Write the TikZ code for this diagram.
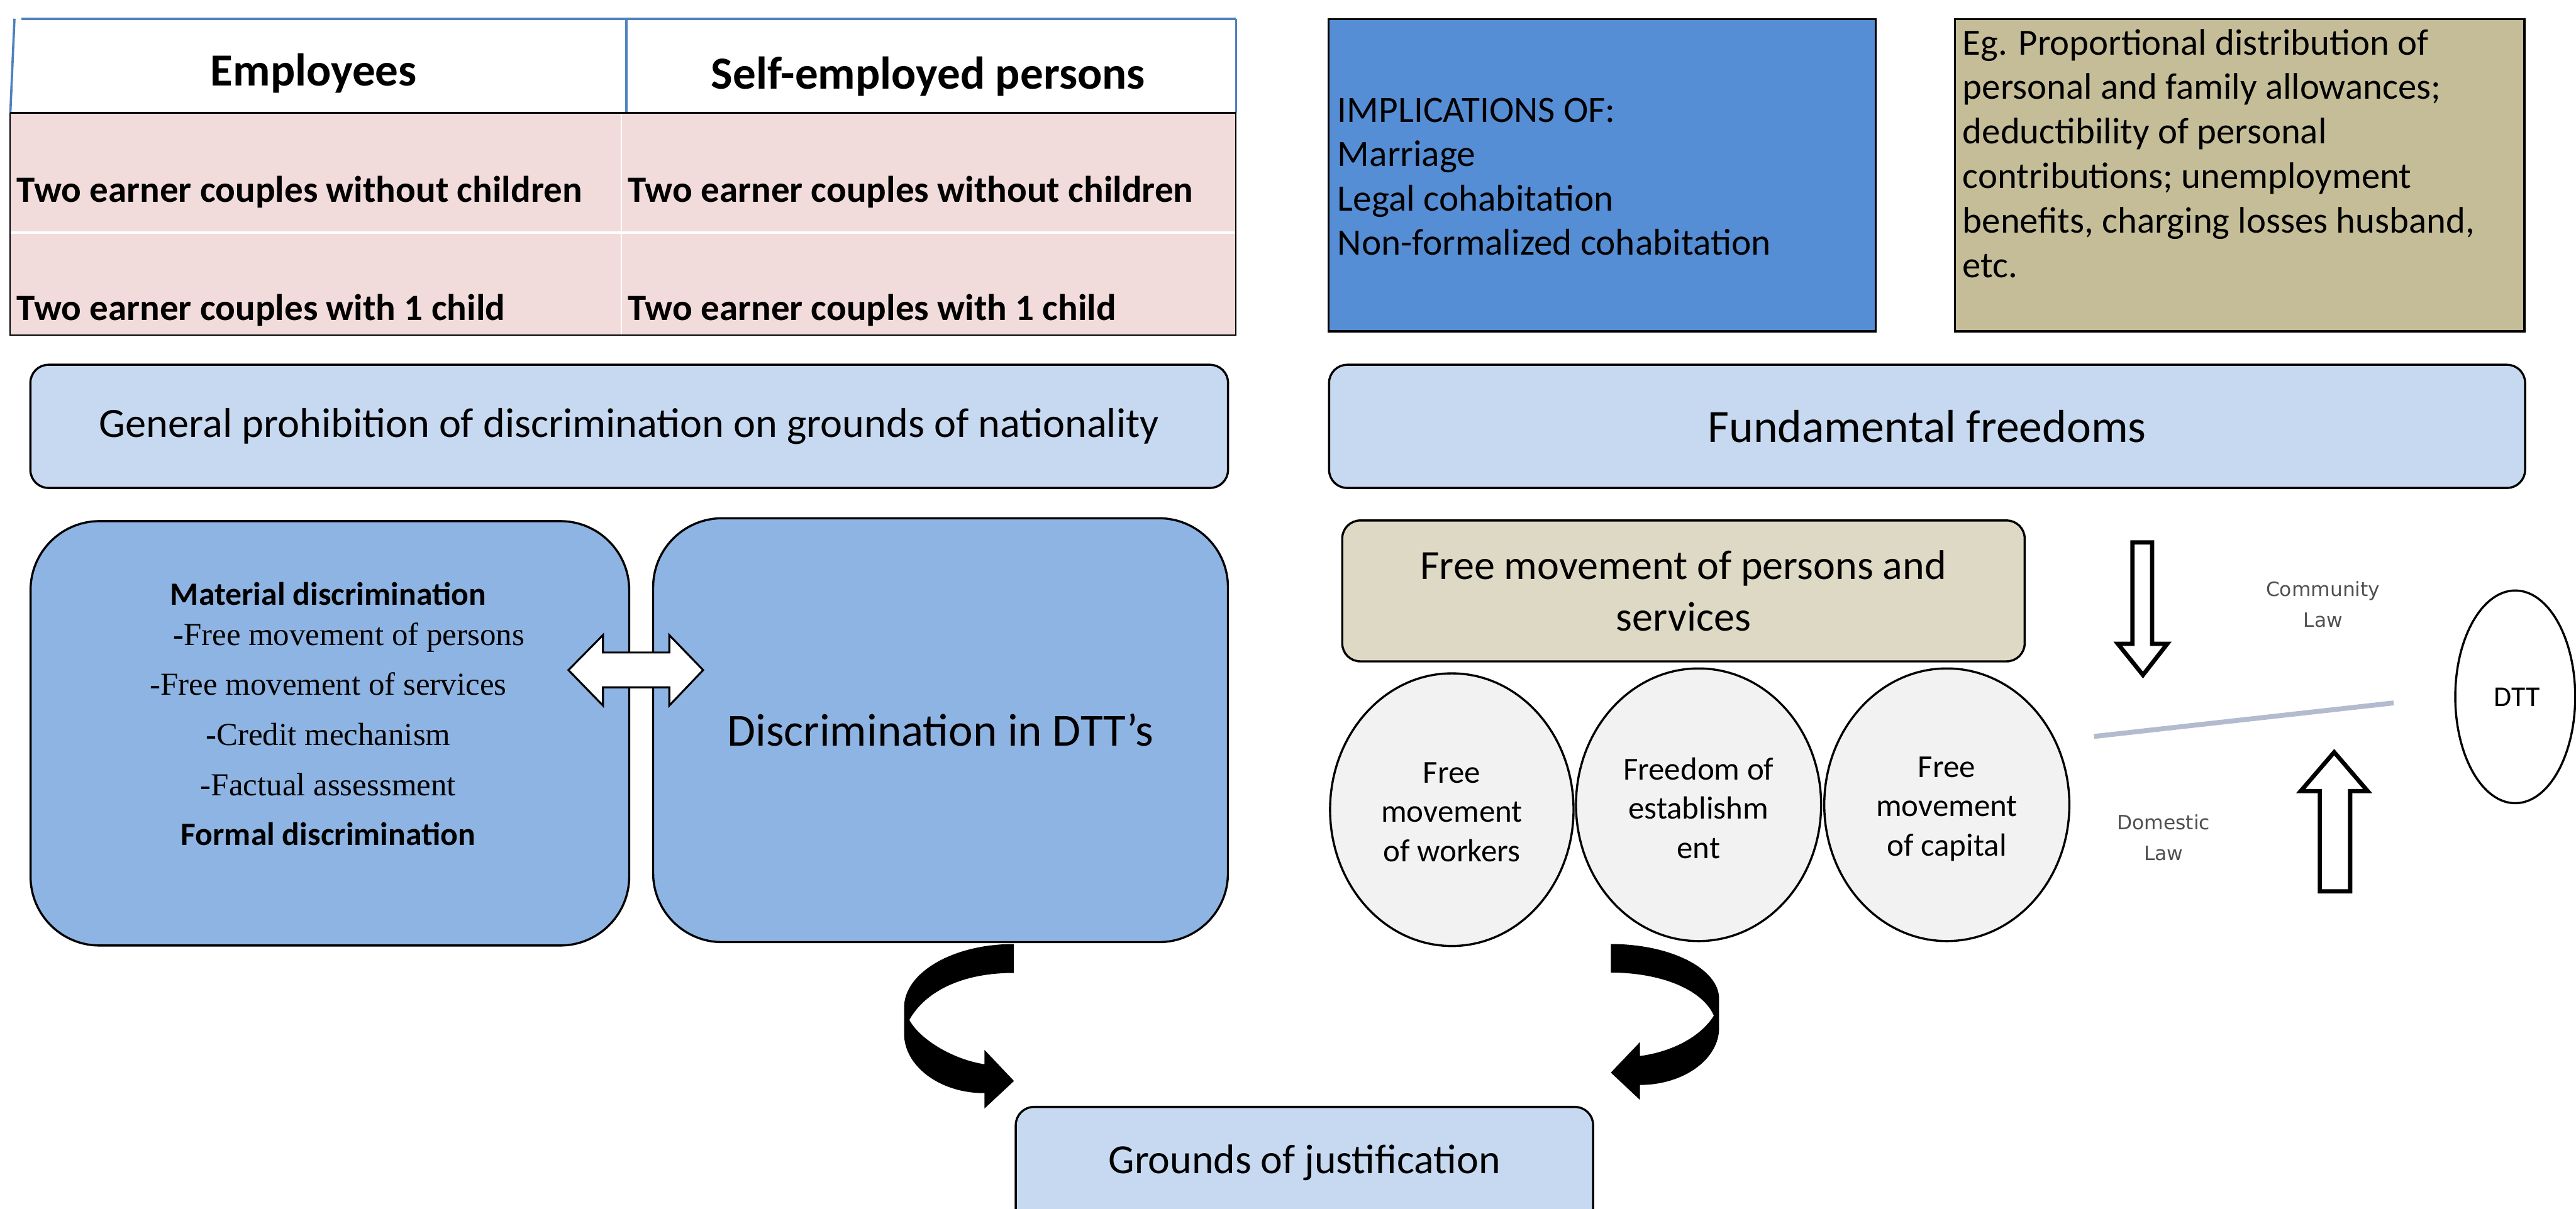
\documentclass[tikz,border=0pt]{standalone}
\usepackage{fontspec}
\setmainfont{Carlito}
\newfontfamily\serifface{Liberation Serif}
\newfontfamily\labelface{DejaVu Sans}
\usetikzlibrary{shapes.geometric}

\definecolor{headblue}{HTML}{4F81BD}
\definecolor{rowpink}{HTML}{F2DCDB}
\definecolor{implblue}{HTML}{558ED5}
\definecolor{khaki}{HTML}{C4BD97}
\definecolor{paleblue}{HTML}{C6D9F1}
\definecolor{midblue}{HTML}{8EB4E3}
\definecolor{sand}{HTML}{DDD9C4}
\definecolor{ovalgrey}{HTML}{F2F2F2}
\definecolor{lawgrey}{HTML}{505050}
\definecolor{divider}{HTML}{B3BCCF}

\newcommand\fsz[2]{\fontsize{#1pt}{#2pt}\selectfont}

\begin{document}
\begin{tikzpicture}[x=1pt,y=-1pt,
  panel/.style={draw=black,line width=1.3pt,rounded corners=11pt,inner sep=0pt},
  bigpanel/.style={draw=black,line width=1.3pt,rounded corners=42pt,inner sep=0pt},
  flatbox/.style={draw=black,line width=1.3pt,inner sep=0pt},
  oval/.style={ellipse,draw=black,line width=1.3pt,fill=ovalgrey,inner sep=0pt},
  hollowarrow/.style={draw=black,line width=2.6pt,fill=white,line join=miter},
  cellhead/.style={font=\fsz{28}{32}\bfseries,inner sep=0pt},
  celltext/.style={font=\fsz{22.6}{26}\bfseries,inner sep=0pt,anchor=west},
  lawtext/.style={font=\labelface\fsz{12}{19},text=lawgrey,align=center,inner sep=0pt},
  ovaltext/.style={font=\fsz{19.5}{24},align=center,inner sep=0pt},
  curlyarrow/.style={fill=black}
]
\useasboundingbox (0,0) rectangle (1568,736);
\clip (0,0) rectangle (1568,736);

% ---------- table: employees / self-employed ----------
\fill[rowpink] (6.2,68.7) rectangle (752.3,140.8);
\fill[rowpink] (6.2,142.4) rectangle (752.3,204);
\draw[white,line width=0.8pt] (378.2,68.7) -- (378.2,204);
\draw[black,line width=0.9pt] (6.2,68.7) -- (6.2,204) -- (752.3,204) -- (752.3,68.7) -- cycle;
\draw[white,line width=1.6pt] (6.7,141.6) -- (751.8,141.6);
\draw[headblue,line width=1.4pt] (13.2,11.4) -- (752.4,11.4);
\draw[headblue,line width=1.4pt] (8.8,11.4) -- (6.3,68.7);
\draw[headblue,line width=1.4pt] (381.4,11.4) -- (381.4,68.7);
\draw[headblue,line width=1.4pt] (752.4,11.4) -- (752.4,68.7);
\draw[black,line width=0.9pt] (6.2,68.7) -- (752.3,68.7);

\node[cellhead] (hemp) at (191,44.5) {Employees};
\node[cellhead] (hself) at (565,46.5) {Self-employed persons};
\node[celltext] (e1) at (10,117) {Two earner couples without children};
\node[celltext] (s1) at (382,117) {Two earner couples without children};
\node[celltext] (e2) at (10,189) {Two earner couples with 1 child};
\node[celltext] (s2) at (382,189) {Two earner couples with 1 child};

% ---------- top right boxes ----------
\node[flatbox,fill=implblue,minimum width=333pt,minimum height=190pt] (impl) at (975.2,106.7) {};
\node[font=\fsz{22.7}{27},align=left,anchor=west,inner sep=0pt] (impltxt) at (814,107.5)
  {IMPLICATIONS OF:\\Marriage\\Legal cohabitation\\Non-formalized cohabitation};
\node[flatbox,fill=khaki,minimum width=346.6pt,minimum height=190pt] (eg) at (1363.3,106.7) {};
\node[font=\fsz{22.5}{27.1},align=left,anchor=north west,inner sep=0pt] (egtxt) at (1194.5,17.5)
  {Eg. Proportional distribution of\\personal and family allowances;\\deductibility of personal\\contributions; unemployment\\benefits, charging losses husband,\\etc.};

% ---------- principle bars ----------
\node[panel,fill=paleblue,minimum width=729pt,minimum height=75pt,font=\fsz{25.4}{30}] (gen) at (383,259.6)
  {General prohibition of discrimination on grounds of nationality};
\node[panel,fill=paleblue,minimum width=728pt,minimum height=75pt,font=\fsz{28.2}{32}] (fund) at (1173,259.6)
  {Fundamental freedoms};

% ---------- discrimination boxes ----------
\node[bigpanel,fill=midblue,minimum width=364.4pt,minimum height=258.4pt] (matl) at (200.8,446.5) {};
\node[anchor=base,inner sep=0pt] (matltxt) at (199.8,368.6)
  {\fsz{19.5}{30.5}\setlength\tabcolsep{0pt}%
   \begin{tabular}[t]{c}
   {\bfseries\fsz{19.8}{30.5}Material discrimination}\\[-6.3pt]
   \hspace*{25pt}{\serifface -Free movement of persons}\\
   {\serifface -Free movement of services}\\
   {\serifface -Credit mechanism}\\
   {\serifface -Factual assessment}\\
   {\bfseries\fsz{19.8}{30.5}Formal discrimination}
   \end{tabular}};
\node[bigpanel,fill=midblue,minimum width=349.9pt,minimum height=258.1pt,font=\fsz{28}{32}] (dtts) at (572.5,444.6)
  {Discrimination in DTT’s};

% double arrow between the two boxes
\draw[draw=black,line width=1.2pt,fill=white,line join=miter]
  (346,408) -- (367,386.7) -- (367,397.3) -- (407.4,397.3) -- (407.4,386.7) -- (428,408)
  -- (407.4,429.6) -- (407.4,418.5) -- (367,418.5) -- (367,429.6) -- cycle;

% ---------- freedoms ----------
\node[panel,fill=sand,minimum width=415.4pt,minimum height=85.8pt,font=\fsz{25.3}{31.4},align=center] (fmps) at (1024.7,359.8)
  {Free movement of persons and\\services};
\node[oval,minimum width=148.2pt,minimum height=166pt] (workers) at (883.7,493) {};
\node[oval,minimum width=149.2pt,minimum height=166pt] (estab) at (1033.9,490) {};
\node[oval,minimum width=149.2pt,minimum height=166pt] (capital) at (1185,490) {};
\node[ovaltext] (workerstxt) at (883.7,494.5) {Free\\movement\\of workers};
\node[ovaltext] (estabtxt) at (1033.9,492) {Freedom of\\establishm\\ent};
\node[ovaltext] (capitaltxt) at (1185,492.5) {Free\\movement\\of capital};

% ---------- community law versus domestic law ----------
\draw[hollowarrow]
  (1298,330.3) -- (1310,330.3) -- (1310,392) -- (1319.2,392) -- (1304.4,411) -- (1289.1,392) -- (1298,392) -- cycle;
\draw[hollowarrow]
  (1412.1,542.7) -- (1430.5,542.7) -- (1430.5,481.7) -- (1441.2,481.7) -- (1420.8,458) -- (1400.4,481.7) -- (1412.1,481.7) -- cycle;
\coordinate (lvlA) at (1274.6,448.4);
\coordinate (lvlB) at (1457,428);
\draw[divider,line width=3pt] (lvlA) -- (lvlB);
\node[lawtext] (community) at (1414,368) {Community\\Law};
\node[lawtext] (domestic) at (1317,510) {Domestic\\Law};
\node[ellipse,draw=black,line width=1.3pt,minimum width=73pt,minimum height=129.5pt,inner sep=0pt] (dtt) at (1531,424.3) {};
\node[font=\fsz{17.5}{20},inner sep=0pt] (dtttxt) at (1532,424.6) {DTT};

% ---------- curved arrows towards the justification box ----------
\fill[curlyarrow] (617,574.8) .. controls (580.2,574.8) and (550.3,592.1) .. (550.3,613.5)
  -- (550.3,629.3) .. controls (550.3,649.3) and (572.2,665.6) .. (599.2,665.6)
  -- (599.2,675) -- (617.2,658.2) -- (599.2,639.2) -- (599.2,648)
  .. controls (580,645) and (560,633) .. (553.5,621)
  .. controls (563,604) and (585,592.4) .. (617,592.4) -- cycle;
\fill[curlyarrow] (980.5,574.8) .. controls (1016.9,574.8) and (1046.4,589.8) .. (1046.4,608.2)
  -- (1046.4,625.8) .. controls (1046.4,645) and (1024.8,660.6) .. (998.2,660.6)
  -- (998.2,669.7) -- (980.5,653.1) -- (998.2,634.5) -- (998.2,643)
  .. controls (1020,640) and (1036,630) .. (1043.2,618.4)
  .. controls (1036,602) and (1010,592.2) .. (980.5,592.2) -- cycle;

\node[panel,fill=paleblue,minimum width=351.4pt,minimum height=90pt] (grounds) at (794,719) {};
\node[font=\fsz{25.2}{29},inner sep=0pt] (groundstxt) at (794,708) {Grounds of justification};
\end{tikzpicture}
\end{document}
